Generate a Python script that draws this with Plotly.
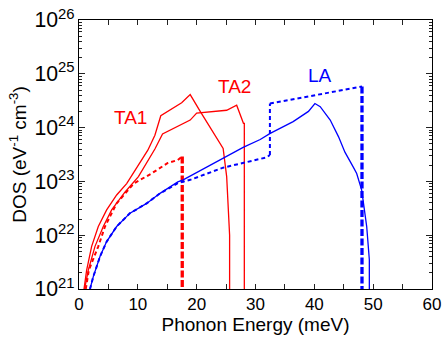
import math
import plotly.graph_objects as go

# TA1 (upper solid red)
ta1_E = [0.85, 1.3, 2.15, 3.28, 4.7, 6.4, 8.1, 9.5, 11.7, 12.9, 13.9, 17.45, 18.9, 20.6, 23.7, 24.5, 25.1, 25.6, 25.6]
ta1_D = [1.0e21, 2.24e21, 6.2e21, 1.45e22, 2.95e22, 5.6e22, 9.1e22, 1.62e23, 3.8e23, 7.2e23, 1.66e24,
         2.9e24, 4.1e24, 2.0e24, 5.9e23, 4.1e23, 1.23e23, 1.0e22, 1.0e20]

# TA2 (lower solid red)
ta2_E = [0.95, 1.58, 2.72, 4.13, 5.55, 7.8, 10.1, 12.9, 14.2, 18.9, 20.0, 25.1, 26.8, 27.95, 28.1, 28.1]
ta2_D = [1.0e21, 2.24e21, 6.2e21, 1.45e22, 2.95e22, 6.3e22, 1.23e23, 4.0e23, 7.6e23, 1.38e24, 1.86e24,
         2.1e24, 2.6e24, 1.2e24, 1.2e24, 1.0e20]

# TA dashed (red)
tad_E = [1.15, 1.67, 3.28, 4.42, 6.4, 9.3, 12.35, 15.1, 16.8, 17.5]
tad_D = [1.0e21, 2.24e21, 6.2e21, 1.45e22, 3.9e22, 9.1e22, 1.41e23, 2.2e23, 2.5e23, 2.9e23]
tad_vE = [17.55, 17.55]
tad_vD = [2.9e23, 1.0e20]

# LA solid (blue)
la_E = [1.87, 2.43, 3.57, 4.7, 6.4, 8.67, 11.5, 13.77, 16.8, 17.7, 27.9, 30.8, 32.5, 36.4, 39.0, 40.1,
        41.0, 42.7, 44.1, 45.2, 46.6, 47.2, 48.05, 48.9, 49.35, 49.35]
la_D = [1.0e21, 1.7e21, 4.0e21, 7.6e21, 1.45e22, 2.57e22, 3.9e22, 6.0e22, 9.8e22, 1.07e23, 4.3e23,
        6.0e23, 7.8e23, 1.29e24, 2.0e24, 2.8e24, 2.45e24, 1.38e24, 6.8e23, 3.5e23, 1.86e23,
        1.4e23, 6.9e22, 1.45e22, 3.5e21, 1.0e20]

# LA dashed (blue)
lad_E = [1.87, 2.43, 3.57, 4.7, 6.4, 8.67, 11.5, 13.77, 16.8, 18.9, 24.5, 31.9, 32.45]
lad_D = [1.0e21, 1.7e21, 4.0e21, 7.6e21, 1.45e22, 2.57e22, 3.9e22, 6.0e22, 9.3e22, 1.07e23,
         1.8e23, 2.8e23, 3.1e23]
lad_vE = [32.45, 32.45]
lad_vD = [3.1e23, 2.8e24]
lad2_E = [32.45, 48.1]
lad2_D = [2.8e24, 5.8e24]
lad2_vE = [48.1, 48.1]
lad2_vD = [5.8e24, 1.0e20]

labels = ["TA1", "TA2", "LA"]
label_E = [8.7, 26.4, 41.0]
label_D = [1.55e24, 5.9e24, 9.5e24]
label_col = ["#ff0000", "#ff0000", "#0000ff"]

x_tickvals = [0, 5, 10, 15, 20, 25, 30, 35, 40, 45, 50, 55, 60]
x_ticktext = ["0", "", "10", "", "20", "", "30", "", "40", "", "50", "", "60"]

RED = "#ff0000"
BLUE = "#0000ff"
FONT = "Liberation Sans, Arial, sans-serif"

fig = go.Figure()
fig.add_trace(go.Scatter(x=ta1_E, y=ta1_D, mode="lines", line=dict(color=RED, width=1.3)))
fig.add_trace(go.Scatter(x=ta2_E, y=ta2_D, mode="lines", line=dict(color=RED, width=1.3)))
fig.add_trace(go.Scatter(x=tad_E, y=tad_D, mode="lines", line=dict(color=RED, width=2, dash="4px,3px")))
fig.add_trace(go.Scatter(x=tad_vE, y=tad_vD, mode="lines", line=dict(color=RED, width=3.3, dash="7px,2.5px")))
fig.add_trace(go.Scatter(x=la_E, y=la_D, mode="lines", line=dict(color=BLUE, width=1.3)))
fig.add_trace(go.Scatter(x=lad_E, y=lad_D, mode="lines", line=dict(color=BLUE, width=2, dash="4px,3px")))
fig.add_trace(go.Scatter(x=lad_vE, y=lad_vD, mode="lines", line=dict(color=BLUE, width=2, dash="4px,3px")))
fig.add_trace(go.Scatter(x=lad2_E, y=lad2_D, mode="lines", line=dict(color=BLUE, width=2, dash="4px,3px")))
fig.add_trace(go.Scatter(x=lad2_vE, y=lad2_vD, mode="lines", line=dict(color=BLUE, width=3.3, dash="7px,2.5px")))

for t, e, d, c in zip(labels, label_E, label_D, label_col):
    fig.add_annotation(x=e, y=math.log10(d), xref="x", yref="y", text=t, showarrow=False,
                       font=dict(family=FONT, size=19, color=c))

fig.update_layout(
    template="simple_white",
    width=443, height=339,
    margin=dict(l=79, r=11, t=20, b=50),
    paper_bgcolor="white", plot_bgcolor="white",
    showlegend=False,
    font=dict(family=FONT, size=17, color="black"),
)
fig.update_xaxes(
    range=[0, 60], tickmode="array", tickvals=x_tickvals, ticktext=x_ticktext, automargin=False,
    ticks="inside", ticklen=5, tickcolor="#222", tickwidth=1.2,
    showline=True, linecolor="black", linewidth=1, mirror="ticks",
    showgrid=False, zeroline=False,
    title=dict(text="Phonon Energy (meV)", standoff=2, font=dict(size=19)),
    tickfont=dict(size=17),
)
fig.update_yaxes(
    type="log", range=[21, 26], dtick=1, automargin=False,
    exponentformat="power",
    ticks="inside", ticklen=6, tickcolor="#222", tickwidth=1.2,
    minor=dict(dtick="D1", ticks="inside", ticklen=3, tickcolor="#222", tickwidth=1),
    showline=True, linecolor="black", linewidth=1, mirror="ticks",
    showgrid=False, zeroline=False,
    title=dict(text="DOS (eV<sup>-1</sup> cm<sup>-3</sup>)", standoff=2, font=dict(size=19)),
    tickfont=dict(size=17),
)

fig.write_html("out.html", config={"displayModeBar": False},
               post_script="document.body.style.margin='0px';document.body.style.padding='0px';")
